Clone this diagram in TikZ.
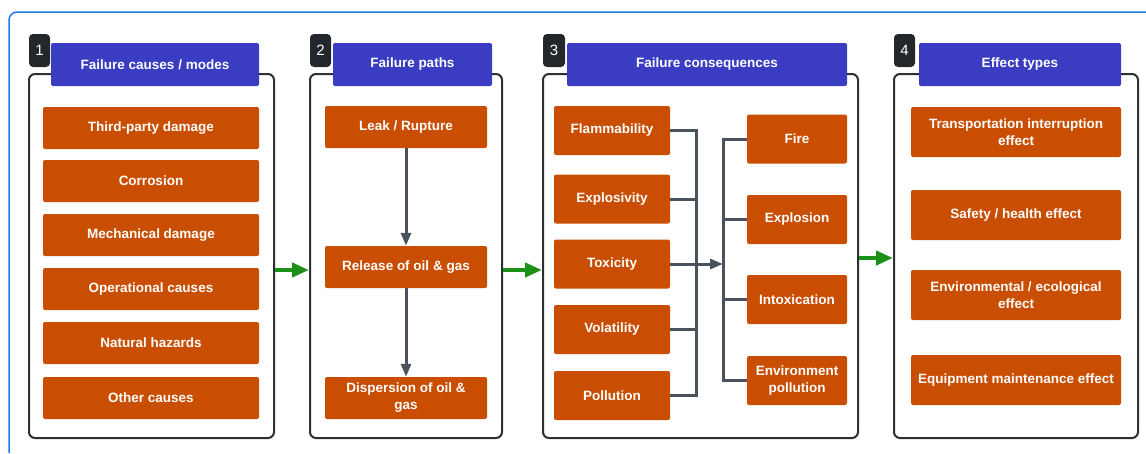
\documentclass[tikz,border=0pt]{standalone}
\usepackage{fontspec}
\setmainfont{Liberation Sans}
\usetikzlibrary{arrows.meta}
\definecolor{frameblue}{HTML}{1E78EC}
\definecolor{headblue}{HTML}{3A3DC2}
\definecolor{boxorange}{HTML}{C94E02}
\definecolor{badgegray}{HTML}{23272C}
\definecolor{paneledge}{HTML}{2C3036}
\definecolor{linkgray}{HTML}{4A525B}
\definecolor{flowgreen}{HTML}{1B9118}

\begin{document}
\begin{tikzpicture}[x=1pt, y=-1pt,
	panel/.style={draw=paneledge, line width=2pt, rounded corners=6pt, minimum height=364, inner sep=0},
	header/.style={fill=headblue, rounded corners=2pt, minimum height=43, inner sep=0, text=white, font=\bfseries\fontsize{13.5}{17}\selectfont},
	badge/.style={fill=badgegray, rounded corners=4pt, minimum height=33, inner sep=0, text=white, font=\fontsize{15}{17}\selectfont},
	item/.style={fill=boxorange, rounded corners=2pt, inner sep=1pt, align=center, text=white, font=\bfseries\fontsize{13.5}{17}\selectfont},
	link/.style={draw=linkgray, line width=3pt},
	linkarrow/.style={link, -{Triangle[length=13pt,width=10pt]}},
	flow/.style={draw=flowgreen, line width=4.5pt, -{Triangle[length=17pt,width=14pt]}}]
\useasboundingbox (0,0) rectangle (1146,453);

% Draw outer frame
\draw[frameblue, line width=1.5pt, rounded corners=8pt] (9,453) |- (1146,12);

% Draw panels
\node[panel, minimum width=245] (p1) at (151.5,256) {};
\node[panel, minimum width=192] (p2) at (406,256) {};
\node[panel, minimum width=315] (p3) at (700.5,256) {};
\node[panel, minimum width=244] (p4) at (1016,256) {};

% Draw headers and numbers
\node[header, minimum width=208] (h1) at (155,64.5) {Failure causes / modes};
\node[header, minimum width=159] (h2) at (412.5,64.5) {Failure paths};
\node[header, minimum width=280] (h3) at (707,64.5) {Failure consequences};
\node[header, minimum width=202] (h4) at (1020,64.5) {Effect types};
\node[badge, minimum width=21] (b1) at (39.5,50.5) {1};
\node[badge, minimum width=21] (b2) at (320.5,50.5) {2};
\node[badge, minimum width=22] (b3) at (554,50.5) {3};
\node[badge, minimum width=21] (b4) at (904.5,50.5) {4};

% Panel 1: causes
\node[item, minimum width=216, minimum height=42] (tpd) at (151,128) {Third-party damage};
\node[item, minimum width=216, minimum height=42] (corr) at (151,181) {Corrosion};
\node[item, minimum width=216, minimum height=42] (mech) at (151,235) {Mechanical damage};
\node[item, minimum width=216, minimum height=42] (oper) at (151,289) {Operational causes};
\node[item, minimum width=216, minimum height=42] (natu) at (151,343) {Natural hazards};
\node[item, minimum width=216, minimum height=42] (othe) at (151,398) {Other causes};

% Panel 2: paths
\node[item, minimum width=162, minimum height=42] (leak) at (406,127) {Leak / Rupture};
\node[item, minimum width=162, minimum height=42] (rele) at (406,267) {Release of oil \& gas};
\node[item, minimum width=162, minimum height=42] (disp) at (406,398) {Dispersion of oil \&\\ gas};
\draw[linkarrow] (leak) -- (rele);
\draw[linkarrow] (rele) -- (disp);

% Panel 3: consequences
\node[item, minimum width=116, minimum height=49] (flam) at (612,130.5) {Flammability};
\node[item, minimum width=116, minimum height=49] (expl) at (612,199) {Explosivity};
\node[item, minimum width=116, minimum height=49] (toxi) at (612,264) {Toxicity};
\node[item, minimum width=116, minimum height=49] (vola) at (612,329.5) {Volatility};
\node[item, minimum width=116, minimum height=49] (poll) at (612,395.5) {Pollution};
\node[item, minimum width=100, minimum height=49] (fire) at (797,139) {Fire};
\node[item, minimum width=100, minimum height=49] (explo) at (797,219.5) {Explosion};
\node[item, minimum width=100, minimum height=49] (intox) at (797,299.5) {Intoxication};
\node[item, minimum width=100, minimum height=49] (envp) at (797,380.5) {Environment\\ pollution};

\pgfmathsetmacro{\busLeft}{696}
\pgfmathsetmacro{\busRight}{723}
\coordinate (bl) at (\busLeft,0);
\coordinate (br) at (\busRight,0);
\draw[link] (flam.east) -- (flam.east -| bl) -- (poll.east -| bl) -- (poll.east);
\draw[link] (expl.east) -- (expl.east -| bl);
\draw[link] (vola.east) -- (vola.east -| bl);
\draw[linkarrow] (toxi.east) -- (toxi.east -| br);
\draw[link] (fire.west) -- (fire.west -| br) -- (envp.west -| br) -- (envp.west);
\draw[link] (explo.west) -- (explo.west -| br);
\draw[link] (intox.west) -- (intox.west -| br);

% Panel 4: effects
\node[item, minimum width=210, minimum height=50] (tran) at (1016,132) {Transportation interruption\\ effect};
\node[item, minimum width=210, minimum height=50] (safe) at (1016,215) {Safety / health effect};
\node[item, minimum width=210, minimum height=50] (envi) at (1016,295) {Environmental / ecological\\ effect};
\node[item, minimum width=210, minimum height=50] (equi) at (1016,380) {Equipment maintenance effect};

% Draw flow arrows
\draw[flow] ([yshift=-14]p1.east) -- ([yshift=-14]p2.west);
\draw[flow] ([yshift=-14]p2.east) -- ([yshift=-14]p3.west);
\draw[flow] ([yshift=-2]p3.east) -- ([yshift=-2]p4.west);
\end{tikzpicture}
\end{document}
